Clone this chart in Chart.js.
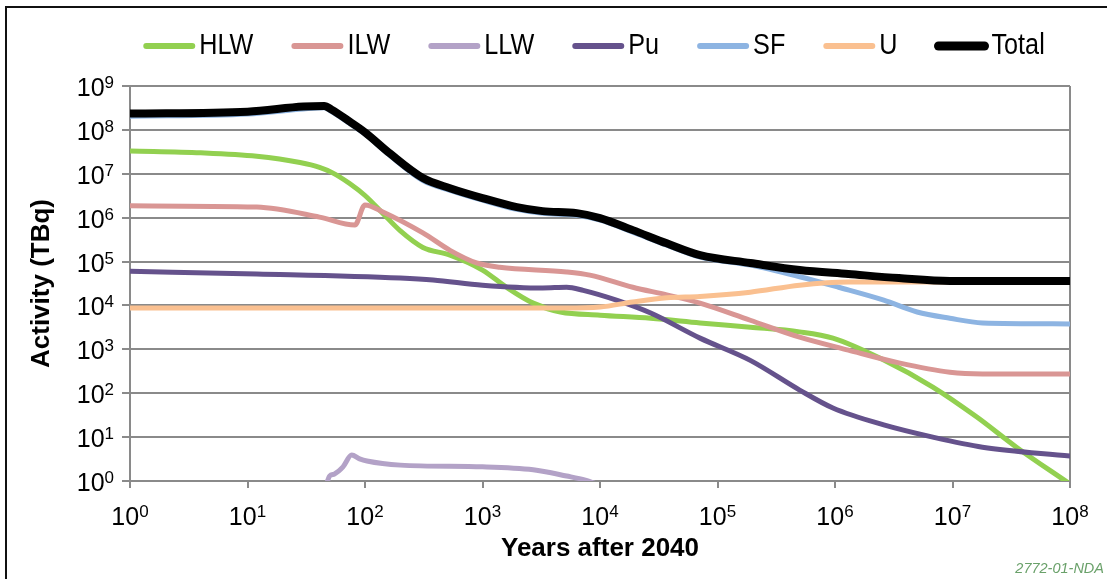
<!DOCTYPE html>
<html>
<head>
<meta charset="utf-8">
<title>Activity after 2040</title>
<script src="https://cdn.jsdelivr.net/npm/chart.js@4.4.1/dist/chart.umd.min.js"></script>
<style>
    html, body { margin: 0; padding: 0; background: #fff; }
    #wrap { width: 1107px; height: 579px; }
</style>
</head>
<body>
<div id="wrap"><canvas id="chartActivity" width="1107" height="579"></canvas></div>
<script>
//==========Data===========
const xTicks = [1, 10, 100, 1e3, 1e4, 1e5, 1e6, 1e7, 1e8];
const yTicks = [1, 10, 100, 1e3, 1e4, 1e5, 1e6, 1e7, 1e8, 1e9];

const hlwYears  = [1, 4, 12, 28, 41, 53, 74, 100, 142, 200, 311, 529, 1000, 1600, 2700, 4600, 1e4, 2.7e4, 7.1e4, 1.9e5, 5e5, 9.6e5, 2.6e6, 6.8e6, 1.6e7, 3.5e7, 1e8];
const hlwValues = [3.3e7, 3.0e7, 2.5e7, 1.8e7, 1.4e7, 1.05e7, 6e6, 3.2e6, 1.25e6, 5e5, 2.1e5, 1.4e5, 6.4e4, 2.6e4, 1.13e4, 7.1e3, 6e3, 5.1e3, 4e3, 3.2e3, 2.5e3, 1.8e3, 570, 138, 29, 5.9, 0.85];

const ilwYears  = [1, 12, 41, 82, 100, 142, 311, 529, 890, 1400, 5200, 8200, 1.9e4, 3.7e4, 7.1e4, 1.9e5, 5e5, 1.3e6, 3.5e6, 9.5e6, 1.8e7, 1e8];
const ilwValues = [1.86e6, 1.74e6, 1.03e6, 6.8e5, 1.95e6, 1.35e6, 4.5e5, 1.8e5, 9.3e4, 7.4e4, 5.8e4, 4.9e4, 2.6e4, 1.74e4, 1.13e4, 4.6e3, 1.9e3, 960, 490, 300, 275, 275];

const llwYears  = [47, 50, 55, 65, 77, 90, 104, 200, 1000, 2700, 5200, 7500, 1e4];
const llwValues = [0.85, 1.3, 1.45, 2.1, 3.9, 3.2, 2.85, 2.3, 2.1, 1.8, 1.3, 1.05, 0.8];

const puYears  = [1, 12, 200, 380, 1000, 3250, 5200, 7200, 1.4e4, 2.7e4, 7.1e4, 1.9e5, 5e5, 9.6e5, 2.6e6, 6.8e6, 1.8e7, 1e8];
const puValues = [6.0e4, 5.2e4, 4.2e4, 3.8e4, 2.9e4, 2.5e4, 2.6e4, 2.2e4, 1.3e4, 6.7e3, 1.8e3, 560, 118, 46, 19, 10, 5.9, 3.7];

const sfYears  = [1, 10, 30, 45, 52, 74, 100, 163, 311, 529, 1000, 1960, 3250, 6350, 1e4, 1.9e4, 3.7e4, 7.1e4, 1.9e5, 5e5, 1.07e6, 2.6e6, 5e6, 9.5e6, 1.8e7, 1e8];
const sfValues = [2.05e8, 2.3e8, 3.0e8, 3.2e8, 2.6e8, 1.4e8, 8e7, 2.6e7, 7e6, 4.2e6, 2.5e6, 1.55e6, 1.26e6, 1.13e6, 8.8e5, 4.7e5, 2.35e5, 1.26e5, 8.3e4, 4.5e4, 2.6e4, 1.32e4, 7.1e3, 5.1e3, 4e3, 3.8e3];

const uYears  = [1, 5000, 1e4, 1.9e4, 3.7e4, 7.1e4, 1.9e5, 5e5, 1.3e6, 3.5e6, 1e8];
const uValues = [8.7e3, 8.7e3, 9.2e3, 1.2e4, 1.5e4, 1.6e4, 2e4, 2.9e4, 3.4e4, 3.4e4, 3.4e4];

const totalYears  = [1, 10, 30, 45, 52, 74, 100, 163, 311, 529, 1000, 1960, 3250, 6350, 1e4, 1.9e4, 3.7e4, 7.1e4, 1.9e5, 5e5, 1.3e6, 3.5e6, 9.5e6, 1e8];
const totalValues = [2.35e8, 2.6e8, 3.4e8, 3.5e8, 2.9e8, 1.55e8, 8.8e7, 2.9e7, 8e6, 4.7e6, 2.8e6, 1.74e6, 1.41e6, 1.27e6, 9.8e5, 5.2e5, 2.6e5, 1.4e5, 9.3e4, 6.4e4, 5.2e4, 4.2e4, 3.6e4, 3.6e4];
//==========Data===========

const GRID = '#8a8a8a';
const SANS = '"Liberation Sans", Arial, sans-serif';

function toPoints(years, values) {
    return years.map((x, i) => ({ x: x, y: values[i] }));
}

function series(label, years, values, color, width, order) {
    return {
        label: label,
        data: toPoints(years, values),
        borderColor: color,
        backgroundColor: color,
        borderWidth: width,
        pointRadius: 0,
        cubicInterpolationMode: 'monotone',
        borderCapStyle: 'round',
        borderJoinStyle: 'round',
        fill: false,
        order: order
    };
}

// "10" with a raised exponent
function drawPower(ctx, exp, x, y, align) {
    const main = '25px ' + SANS;
    const sup = '17px ' + SANS;
    ctx.font = main;
    const wBase = ctx.measureText('10').width;
    ctx.font = sup;
    const wExp = ctx.measureText(String(exp)).width;
    const left = align === 'center' ? x - (wBase + wExp) / 2 : x - (wBase + wExp);
    ctx.textAlign = 'left';
    ctx.textBaseline = 'alphabetic';
    ctx.fillStyle = '#000';
    ctx.font = main;
    ctx.fillText('10', left, y);
    ctx.font = sup;
    ctx.fillText(String(exp), left + wBase, y - 8);
}

const powerLabels = {
    id: 'powerLabels',
    afterDraw(chart) {
        const ctx = chart.ctx;
        const xs = chart.scales.x, ys = chart.scales.y;
        ctx.save();
        xs.ticks.forEach(t => {
            drawPower(ctx, Math.round(Math.log10(t.value)), xs.getPixelForValue(t.value), chart.chartArea.bottom + 44, 'center');
        });
        ys.ticks.forEach(t => {
            drawPower(ctx, Math.round(Math.log10(t.value)), chart.chartArea.left - 16, ys.getPixelForValue(t.value) + 10, 'right');
        });
        ctx.restore();
    }
};

// legend with narrow text (no Arial Narrow here, so squeeze the regular face)
const topLegend = {
    id: 'topLegend',
    afterDraw(chart) {
        const ctx = chart.ctx;
        const sets = chart.data.datasets;
        const lineLen = 52, lineGap = 4, itemGap = 38, center = 594, y = 46, squeeze = 0.84;
        ctx.save();
        ctx.font = '30px ' + SANS;
        const widths = sets.map(d => ctx.measureText(d.label).width * squeeze);
        let total = itemGap * (sets.length - 1);
        widths.forEach(w => { total += lineLen + lineGap + w; });
        let x = center - total / 2;
        sets.forEach((d, i) => {
            ctx.strokeStyle = d.borderColor;
            ctx.lineWidth = d.borderWidth + 1;
            ctx.lineCap = 'round';
            ctx.beginPath();
            ctx.moveTo(x + 3, y);
            ctx.lineTo(x + lineLen - 3, y);
            ctx.stroke();
            ctx.save();
            ctx.translate(x + lineLen + lineGap, y);
            ctx.scale(squeeze, 1);
            ctx.fillStyle = '#000';
            ctx.textBaseline = 'middle';
            ctx.textAlign = 'left';
            ctx.fillText(d.label, 0, 0);
            ctx.restore();
            x += lineLen + lineGap + widths[i] + itemGap;
        });
        ctx.restore();
    }
};

const frame = {
    id: 'frame',
    beforeDraw(chart) {
        const ctx = chart.ctx;
        ctx.save();
        ctx.fillStyle = '#fff';
        ctx.fillRect(0, 0, chart.width, chart.height);
        ctx.strokeStyle = '#111';
        ctx.lineWidth = 2;
        ctx.beginPath();
        ctx.moveTo(6, chart.height);
        ctx.lineTo(6, 7);
        ctx.lineTo(chart.width, 7);
        ctx.stroke();
        ctx.restore();
    },
    afterDraw(chart) {
        const ctx = chart.ctx;
        ctx.save();
        ctx.font = 'italic 14.5px ' + SANS;
        ctx.fillStyle = '#6aa16a';
        ctx.textAlign = 'right';
        ctx.textBaseline = 'alphabetic';
        ctx.fillText('2772-01-NDA', 1104, 573);
        ctx.restore();
    }
};

const ctx = document.getElementById('chartActivity');
new Chart(ctx, {
    type: 'line',
    data: {
        datasets: [
            series('HLW', hlwYears, hlwValues, '#92d050', 5, 6),
            series('ILW', ilwYears, ilwValues, '#d99694', 5, 5),
            series('LLW', llwYears, llwValues, '#b3a2c7', 5, 4),
            series('Pu', puYears, puValues, '#65528c', 5, 3),
            series('SF', sfYears, sfValues, '#8db4e2', 5, 2),
            series('U', uYears, uValues, '#fac090', 5, 1),
            series('Total', totalYears, totalValues, '#000000', 8, 0)
        ]
    },
    options: {
        responsive: false,
        animation: false,
        layout: { padding: { left: 20, right: 37, top: 86, bottom: 10 } },
        plugins: {
            legend: { display: false },
            tooltip: { enabled: false }
        },
        scales: {
            x: {
                type: 'logarithmic',
                min: 1,
                max: 1e8,
                afterBuildTicks: s => { s.ticks = xTicks.map(v => ({ value: v })); },
                afterFit: s => { s.height = 88; },
                ticks: { display: false },
                grid: {
                    color: c => (c.tick && c.tick.value === 1e8) ? GRID : 'rgba(0,0,0,0)',
                    tickColor: GRID,
                    tickLength: 7,
                    lineWidth: 2
                },
                border: { color: GRID, width: 2 },
                title: {
                    display: true,
                    text: 'Years after 2040',
                    color: '#000',
                    font: { family: SANS, size: 26, weight: 'bold' },
                    padding: { top: 0, bottom: 5 }
                }
            },
            y: {
                type: 'logarithmic',
                min: 1,
                max: 1e9,
                afterBuildTicks: s => { s.ticks = yTicks.map(v => ({ value: v })); },
                afterFit: s => { s.width = 110; },
                ticks: { display: false },
                grid: { color: GRID, tickColor: GRID, tickLength: 8, lineWidth: 2 },
                border: { color: GRID, width: 2 },
                title: {
                    display: true,
                    text: 'Activity (TBq)',
                    color: '#000',
                    font: { family: SANS, size: 26, weight: 'bold' },
                    padding: { top: 6, bottom: 0 }
                }
            }
        }
    },
    plugins: [frame, powerLabels, topLegend]
});
</script>
</body>
</html>
